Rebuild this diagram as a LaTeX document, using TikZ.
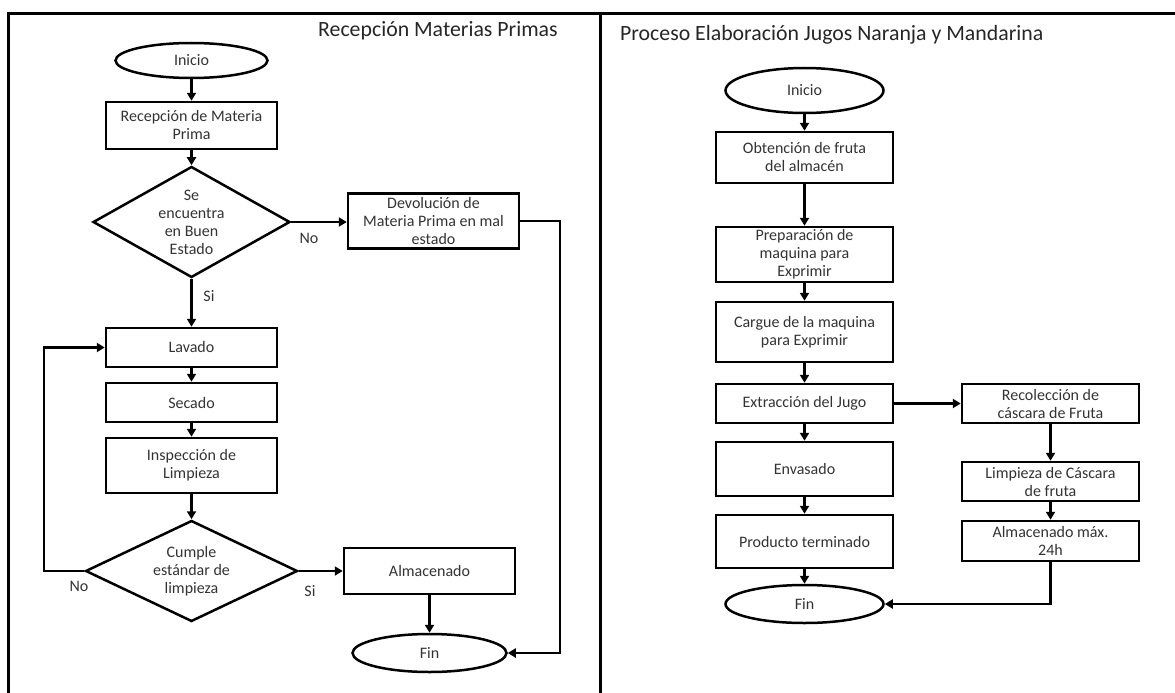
\documentclass[tikz,border=0pt]{standalone}
\usepackage{fontspec}
\setmainfont{Carlito}
\usetikzlibrary{shapes.geometric,arrows.meta}
\newcommand{\bxfont}{\fontsize{16}{18}\selectfont}
\newcommand{\ttlfont}{\fontsize{21.8}{24}\selectfont}
\begin{document}
\begin{tikzpicture}[x=1pt,y=-1pt,
  box/.style={draw,line width=2.5pt,rectangle,minimum width=171pt,inner sep=0pt,align=center,font=\bxfont,text=black!80},
  rbox/.style={box,minimum width=177pt},
  term/.style={draw,line width=2.5pt,ellipse,inner sep=0pt,font=\bxfont,text=black!80},
  dia/.style={draw,line width=2.5pt,diamond,inner sep=0pt},
  txt/.style={align=center,font=\bxfont,text=black!80,inner sep=0pt},
  ttl/.style={font=\ttlfont,text=black!85,inner sep=0pt,anchor=west},
  arr/.style={line width=2.3pt,-{Triangle[length=8pt,width=9pt]}},
  frame/.style={line width=3pt}]
\useasboundingbox (0,0) rectangle (1175,693);
% frame
\draw[frame] (8,693) -- (8,14) -- (1175,14);
\draw[frame] (600,14) -- (600,693);
% titles
\node[ttl] (t1) at (318,31) {Recepción Materias Primas};
\node[ttl] (t2) at (620,35) {Proceso Elaboración Jugos Naranja y Mandarina};
% left flowchart
\node[term,minimum width=152pt,minimum height=35pt] (ini1) at (191.5,60.5) {Inicio};
\node[box,minimum height=47pt] (rec) at (191.5,125.5) {Recepción de Materia\\Prima};
\node[dia,minimum width=197pt,minimum height=111pt] (d1) at (191.5,222) {};
\node[txt] (d1t) at (d1) {Se\\encuentra\\en Buen\\Estado};
\node[box,minimum height=55pt] (dev) at (433.5,221) {Devolución de\\Materia Prima en mal\\estado};
\node[box,minimum height=39pt] (lav) at (191.5,347.5) {Lavado};
\node[box,minimum height=39pt] (sec) at (191.5,402.5) {Secado};
\node[box,minimum height=55pt] (insp) at (191.5,465.5) {Inspección de\\Limpieza};
\node[dia,minimum width=212pt,minimum height=101pt] (d2) at (191.5,571) {};
\node[txt] (d2t) at (d2) {Cumple\\estándar de\\limpieza};
\node[box,minimum height=46pt] (alm) at (429.5,571) {Almacenado};
\node[term,minimum width=154pt,minimum height=38pt] (fin1) at (429.5,653) {Fin};
\node[txt] (no1) at (309,238) {No};
\node[txt] (si1) at (209,296) {Si};
\node[txt] (no2) at (79,586) {No};
\node[txt] (si2) at (310,591) {Si};
\coordinate (cR) at (560,653);
\coordinate (cL) at (44,571);
\draw[arr] (ini1) -- (rec);
\draw[arr] (rec) -- (d1);
\draw[arr] (d1.east) -- (d1.east -| dev.west);
\draw[arr] (d1) -- (lav);
\draw[arr] (lav) -- (sec);
\draw[arr] (sec) -- (insp);
\draw[arr] (insp) -- (d2);
\draw[arr] (d2.east) -- (alm.west);
\draw[arr] (alm) -- (fin1);
\draw[arr] (d2.west) -- (cL) |- (lav.west);
\draw[arr] (dev.east) -| (cR) -- (fin1.east);
% right flowchart
\node[term,minimum width=158pt,minimum height=45pt] (ini2) at (804.5,90.5) {Inicio};
\node[rbox,minimum height=51pt] (obt) at (804.5,157.5) {Obtención de fruta\\del almacén};
\node[rbox,minimum height=55pt] (prep) at (804.5,254.5) {Preparación de\\maquina para\\Exprimir};
\node[rbox,minimum height=60pt] (carg) at (804.5,332) {Cargue de la maquina\\para Exprimir};
\node[rbox,minimum height=39pt] (ext) at (804.5,403.5) {Extracción del Jugo};
\node[rbox,minimum height=54pt] (env) at (804.5,469) {Envasado};
\node[rbox,minimum height=53pt] (prod) at (804.5,541.5) {Producto terminado};
\node[term,minimum width=158pt,minimum height=38pt] (fin2) at (804.5,604) {Fin};
\node[rbox,minimum height=39pt] (rec2) at (1050.5,403.5) {Recolección de\\cáscara de Fruta};
\node[rbox,minimum height=39pt] (limp) at (1050.5,481.5) {Limpieza de Cáscara\\de fruta};
\node[rbox,minimum height=40pt] (almx) at (1050.5,541) {Almacenado máx.\\24h};
\draw[arr] (ini2) -- (obt);
\draw[arr] (obt) -- (prep);
\draw[arr] (prep) -- (carg);
\draw[arr] (carg) -- (ext);
\draw[arr] (ext) -- (env);
\draw[arr] (env) -- (prod);
\draw[arr] (prod) -- (fin2);
\draw[arr] (ext) -- (rec2);
\draw[arr] (rec2) -- (limp);
\draw[arr] (limp) -- (almx);
\draw[arr] (almx.south) |- (fin2.east);
\end{tikzpicture}
\end{document}
